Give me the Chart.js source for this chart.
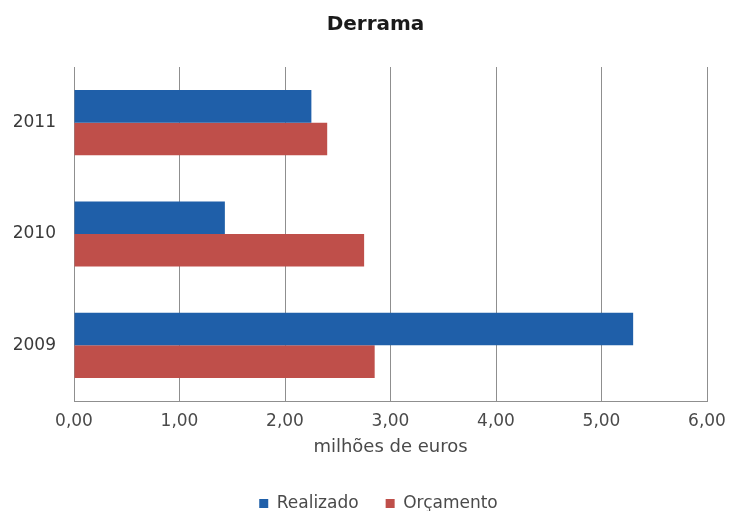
<!DOCTYPE html>
<html>
<head>
<meta charset="utf-8">
<script src="https://cdn.jsdelivr.net/npm/chart.js@4/dist/chart.umd.min.js"></script>
<style>
  html, body { margin: 0; padding: 0; background: #ffffff; }
  #wrap { width: 729px; height: 511px; position: relative; }
</style>
</head>
<body>
<div id="wrap"><canvas id="chart" width="729" height="511"></canvas></div>
<script>
// Derrama: realizado vs orçamento, em milhões de euros
const years = ['2011', '2010', '2009'];
const realizado = [2.25, 1.43, 5.30];
const orcamento = [2.40, 2.75, 2.85];
const xTicks = [0, 1, 2, 3, 4, 5, 6];

const FONT = "'DejaVu Sans', Verdana, sans-serif";

const fmt = v => v.toFixed(2).replace('.', ',');

// nudge the title and legend blocks sideways after layout
const blockShift = {
  id: 'blockShift',
  afterLayout(chart) {
    const t = chart.titleBlock;
    if (t) { t.left += 11; t.right += 11; }
    const l = chart.legend;
    if (l) { l.left += 14; l.right += 14; }
  }
};

new Chart(document.getElementById('chart'), {
  type: 'bar',
  data: {
    labels: years,
    datasets: [
      { label: 'Realizado', data: realizado, backgroundColor: '#1f5fa9', borderWidth: 0 },
      { label: 'Orçamento', data: orcamento, backgroundColor: '#bf4f4a', borderWidth: 0 }
    ]
  },
  plugins: [blockShift],
  options: {
    indexAxis: 'y',
    responsive: false,
    animation: false,
    devicePixelRatio: 1,
    layout: { padding: { left: 0, right: 0, top: 0, bottom: -11 } },
    datasets: { bar: { categoryPercentage: 0.585, barPercentage: 1.0 } },
    scales: {
      x: {
        min: 0,
        max: 6,
        afterBuildTicks: s => { s.ticks = xTicks.map(v => ({ value: v })); },
        grid: { color: '#8f8f8f', lineWidth: 1, drawTicks: false },
        border: { color: '#8f8f8f', width: 1 },
        ticks: {
          padding: 10,
          color: '#4a4a4a',
          font: { family: FONT, size: 17 },
          callback: v => fmt(v)
        },
        title: {
          display: true,
          text: 'milhões de euros',
          color: '#4a4a4a',
          font: { family: FONT, size: 18 },
          padding: { top: 2, bottom: 10 }
        },
        afterFit: s => { s.height = 67; s.paddingRight = 22; }
      },
      y: {
        grid: { display: false, drawTicks: false },
        border: { display: false },
        ticks: {
          padding: 18,
          color: '#3a3a3a',
          font: { family: FONT, size: 17 }
        },
        afterFit: s => { s.width = 74; }
      }
    },
    plugins: {
      title: {
        display: true,
        text: 'Derrama',
        color: '#1a1a1a',
        font: { family: FONT, size: 20, weight: 'bold' },
        padding: { top: 13, bottom: 30 }
      },
      legend: {
        position: 'bottom',
        labels: {
          color: '#4a4a4a',
          font: { family: FONT, size: 17 },
          boxWidth: 9,
          boxHeight: 9,
          padding: 27
        }
      },
      tooltip: { enabled: false }
    }
  }
});
</script>
</body>
</html>
